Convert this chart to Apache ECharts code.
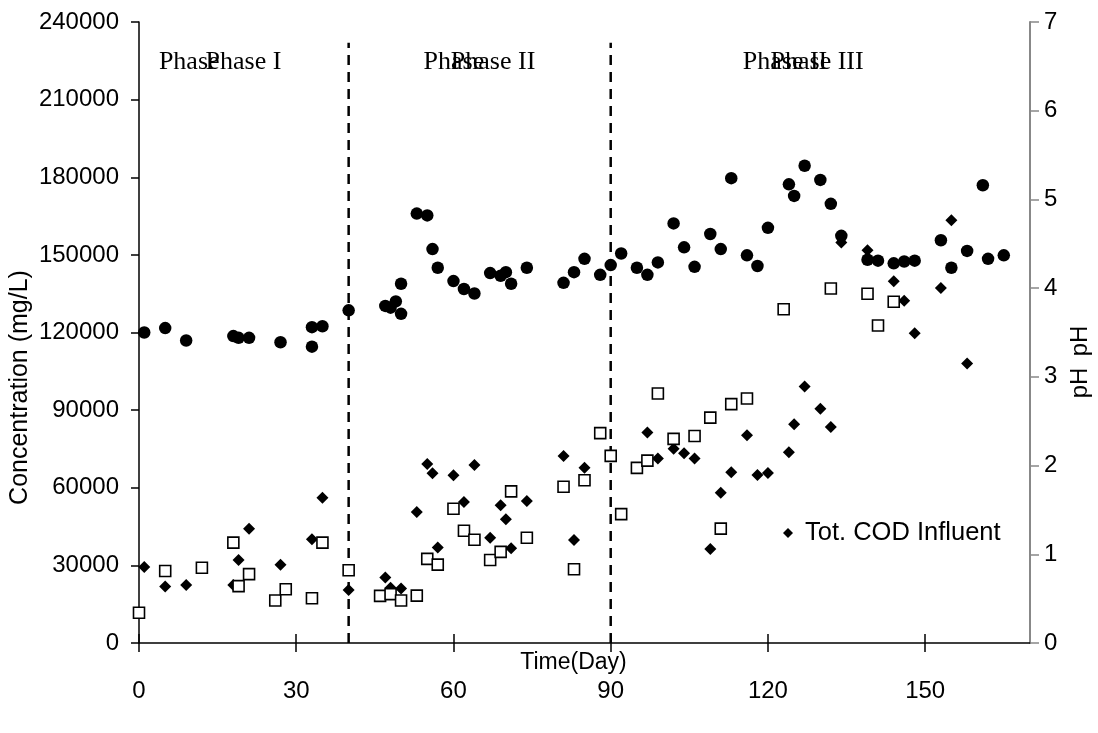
<!DOCTYPE html>
<html><head><meta charset="utf-8">
<script src="https://cdn.jsdelivr.net/npm/echarts@6/dist/echarts.min.js"></script>
<style>html,body{margin:0;padding:0;background:#fff}#c{width:1098px;height:733px}</style>
</head><body><div id="c"></div>
<script>
// ---- data (day, value) ----
const codInfluent = [[1,29400],[5,21800],[9,22400],[18,22400],[19,32100],[21,44200],[27,30200],[33,40100],[35,56100],[40,20500],
 [47,25300],[48,21400],[50,21100],[53,50600],[55,69200],[56,65600],[57,36900],[60,64800],[62,54500],[64,68800],[67,40700],[69,53200],[70,47800],[71,36600],[74,54900],[81,72300],[83,39800],[85,67700],
 [97,81400],[99,71300],[102,75100],[104,73300],[106,71300],[109,36300],[111,58100],[113,66000],[116,80300],[118,64900],[120,65700],[124,73700],[125,84500],[127,99100],[130,90500],[132,83500],
 [134,154800],[139,151800],[144,139800],[146,132300],[148,119700],[153,137200],[155,163400],[158,108000]];
const codOther = [[0,11700],[5,27800],[12,29100],[18,38800],[19,22000],[21,26600],[26,16400],[28,20800],[33,17300],[35,38800],[40,28100],
 [46,18200],[48,18900],[50,16400],[53,18300],[55,32500],[57,30300],[60,51900],[62,43400],[64,39900],[67,32100],[69,35200],[71,58600],[74,40700],[81,60400],[83,28500],[85,62900],[88,81100],[90,72300],[92,49800],
 [95,67700],[97,70500],[99,96400],[102,78900],[106,80000],[109,87100],[111,44200],[113,92300],[116,94500],[123,129000],[132,137000],[139,135000],[141,122700],[144,131900]];
const phValues = [[1,3.50],[5,3.55],[9,3.41],[18,3.46],[19,3.44],[21,3.44],[27,3.39],[33,3.56],[35,3.57],[33,3.34],[40,3.75],
 [47,3.80],[48,3.78],[49,3.85],[50,4.05],[50,3.71],[53,4.84],[55,4.82],[56,4.44],[57,4.23],[60,4.08],[62,3.99],[64,3.94],[67,4.17],[69,4.14],[70,4.18],[71,4.05],[74,4.23],[81,4.06],[83,4.18],[85,4.33],[88,4.15],[90,4.26],
 [92,4.39],[95,4.23],[97,4.15],[99,4.29],[102,4.73],[104,4.46],[106,4.24],[109,4.61],[111,4.44],[113,5.24],[116,4.37],[118,4.25],[120,4.68],[124,5.17],[125,5.04],[127,5.38],[130,5.22],[132,4.95],[134,4.59],
 [139,4.32],[141,4.31],[144,4.28],[146,4.30],[148,4.31],[153,4.54],[155,4.23],[158,4.42],[161,5.16],[162,4.33],[165,4.37]];
const phaseBoundaries = [40, 90];
const phaseTop = 232000;
const phaseLabels = [[3.7,224600,'Phase'],[12.6,224600,'Phase I'],[54.2,224600,'Phase'],[59.4,224600,'Phase II'],[115.1,224600,'Phase II'],[120.4,224600,'Phase III']];
const xTicks = [0,30,60,90,120,150];
const legendName = 'Tot. COD Influent';

const chart = echarts.init(document.getElementById('c'), null, {renderer:'canvas'});
const F = 'Liberation Sans, Arial, sans-serif';
const series = [];
phaseBoundaries.forEach(d => series.push({
  type:'line', xAxisIndex:0, yAxisIndex:0, data:[[d,0],[d,phaseTop]], symbol:'none', silent:true,
  lineStyle:{color:'#000', width:2.5, type:[10,7], opacity:1}, z:1
}));
series.push({name:legendName, type:'scatter', xAxisIndex:0, yAxisIndex:0, data:codInfluent, symbol:'diamond', symbolSize:12,
  itemStyle:{color:'#000', opacity:1}, z:3});
series.push({name:'COD', type:'scatter', xAxisIndex:0, yAxisIndex:0, data:codOther, symbol:'rect', symbolSize:11,
  itemStyle:{color:'#fff', borderColor:'#000', borderWidth:1.6, opacity:1}, z:4});
series.push({name:'pH', type:'scatter', xAxisIndex:0, yAxisIndex:1, data:phValues, symbol:'circle', symbolSize:12.5,
  itemStyle:{color:'#000', opacity:1}, z:5});
series.push({type:'scatter', xAxisIndex:0, yAxisIndex:0, data:phaseLabels, symbolSize:1, silent:true,
  itemStyle:{color:'transparent', opacity:1}, z:6,
  label:{show:true, position:'right', distance:0, formatter:p=>p.data[2], color:'#000', opacity:1, fontFamily:'Liberation Serif, Times New Roman, serif', fontSize:26}});

chart.setOption({
  animation:false,
  backgroundColor:'#fff',
  grid:{left:139, right:68, top:22, bottom:90, containLabel:false, outerBoundsMode:'none'},
  legend:{data:[legendName], left:778, top:515, icon:'diamond', itemWidth:10, itemHeight:10, itemGap:6,
    textStyle:{fontFamily:F, fontSize:25.5, color:'#000', padding:[0,0,0,7]}},
  xAxis:[{type:'value', min:0, max:170, interval:30, position:'bottom',
    name:'Time(Day)', nameLocation:'middle', nameGap:8, nameMoveOverlap:false,
    nameTextStyle:{fontFamily:F, fontSize:23, color:'#000', padding:[0,22,0,0]},
    axisLine:{onZero:false, lineStyle:{color:'#000', width:1.5}},
    axisTick:{show:true, length:9, inside:false, customValues:xTicks, lineStyle:{color:'#000', width:1.5}},
    axisLabel:{customValues:xTicks, fontFamily:F, fontSize:24, color:'#000', margin:36},
    splitLine:{show:false}},
   {type:'value', min:0, max:170, interval:30, position:'bottom', gridIndex:0,
    axisLine:{show:false, onZero:false}, axisLabel:{show:false}, splitLine:{show:false},
    axisTick:{show:true, inside:true, length:9, customValues:xTicks, lineStyle:{color:'#000', width:1.5}}}],
  yAxis:[{type:'value', min:0, max:240000, interval:30000, position:'left',
    name:'Concentration (mg/L)', nameLocation:'middle', nameGap:106, nameMoveOverlap:false,
    nameTextStyle:{fontFamily:F, fontSize:25, color:'#000', padding:[0,110,0,0]},
    axisLine:{show:true, onZero:false, lineStyle:{color:'#000', width:1.5}},
    axisTick:{show:true, length:8, lineStyle:{color:'#000', width:1.5}},
    axisLabel:{fontFamily:F, fontSize:24, color:'#000', margin:20, formatter:v=>String(v)},
    splitLine:{show:false}},
   {type:'value', min:0, max:7, interval:1, position:'right',
    axisLine:{show:true, onZero:false, lineStyle:{color:'#888', width:2}},
    axisTick:{show:true, length:9, lineStyle:{color:'#888', width:1.5}},
    axisLabel:{fontFamily:F, fontSize:24, color:'#000', margin:14},
    splitLine:{show:false}}],
  graphic:[
    {type:'text', x:1080, y:341, rotation:Math.PI/2, style:{text:'pH', font:'24px Liberation Sans', fill:'#000', textAlign:'center', textVerticalAlign:'middle'}},
    {type:'text', x:1080, y:383, rotation:Math.PI/2, style:{text:'pH', font:'24px Liberation Sans', fill:'#000', textAlign:'center', textVerticalAlign:'middle'}}
  ],
  series
});
</script></body></html>
